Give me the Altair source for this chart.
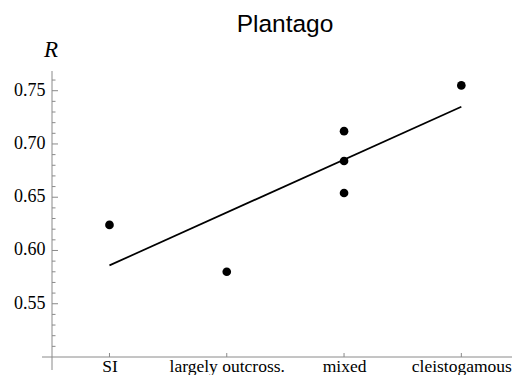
import altair as alt
import pandas as pd

# ---- data ----
categories = ["SI", "largely outcross.", "mixed", "cleistogamous"]
point_cat = [1, 2, 3, 3, 3, 4]
point_R = [0.624, 0.580, 0.712, 0.684, 0.654, 0.755]
fit_cat = [1, 4]
fit_R = [0.586, 0.735]
y_major = [0.55, 0.60, 0.65, 0.70, 0.75]
y_minor = [0.51, 0.52, 0.53, 0.54, 0.56, 0.57, 0.58, 0.59, 0.61, 0.62, 0.63, 0.64,
           0.66, 0.67, 0.68, 0.69, 0.71, 0.72, 0.73, 0.74, 0.76]
x_ticks = [1, 2, 3, 4]
title_text = "Plantago"
y_title = "R"

W, H = 460, 286
AX = "#8a8a8a"
xscale = alt.Scale(domain=[0.51, 4.432], nice=False, zero=False)
yscale = alt.Scale(domain=[0.5, 0.7685], nice=False, zero=False)

pts = pd.DataFrame({"cat": point_cat, "R": point_R})
fit = pd.DataFrame({"cat": fit_cat, "R": fit_R})
one = pd.DataFrame({"a": [0]})

label_expr = "['', " + ", ".join("'" + c + "'" for c in categories) + "][datum.value]"

xaxis_def = alt.Axis(values=x_ticks, labelExpr=label_expr, domain=False, ticks=False,
                     tickSize=0, grid=False, labelFont="Liberation Serif",
                     labelFontSize=17.5, labelColor="black", labelPadding=14.3,
                     labelBaseline="alphabetic", labelAngle=0, title=None)
yaxis_def = alt.Axis(values=y_major, format=".2f", domain=False, ticks=False,
                     tickSize=0, grid=False, labelFont="Liberation Serif",
                     labelFontSize=18, labelColor="black", labelPadding=7,
                     labelBaseline="alphabetic", labelOffset=4.5,
                     title=None)


def X(f):
    return alt.X(f, scale=xscale, axis=xaxis_def)


def Y(f):
    return alt.Y(f, scale=yscale, axis=yaxis_def)


points = alt.Chart(pts).mark_circle(size=75, color="black", opacity=1).encode(
    x=X("cat:Q"), y=Y("R:Q"))

line = alt.Chart(fit).mark_line(color="black", strokeWidth=1.7).encode(
    x=X("cat:Q"), y=Y("R:Q"))

ymaj = alt.Chart(pd.DataFrame({"R": y_major})).mark_rule(color=AX, strokeWidth=1).encode(
    y=Y("R:Q"), x=alt.value(0), x2=alt.value(6))
ymin = alt.Chart(pd.DataFrame({"R": y_minor})).mark_rule(color=AX, strokeWidth=1).encode(
    y=Y("R:Q"), x=alt.value(0), x2=alt.value(3.5))
xt = alt.Chart(pd.DataFrame({"cat": x_ticks})).mark_rule(color=AX, strokeWidth=1).encode(
    x=X("cat:Q"), y=alt.value(H), y2=alt.value(H - 4))

yaxis = alt.Chart(one).mark_rule(color=AX, strokeWidth=1).encode(
    x=alt.value(0), y=alt.value(0), y2=alt.value(H + 13))
xaxis = alt.Chart(one).mark_rule(color=AX, strokeWidth=1).encode(
    x=alt.value(-10), x2=alt.value(W), y=alt.value(H))

ttl = alt.Chart(one).mark_text(text=title_text, font="Liberation Sans", fontSize=24.5,
                               align="center", baseline="alphabetic", color="black").encode(
    x=alt.value(233), y=alt.value(-39))
rt = alt.Chart(one).mark_text(text=y_title, font="Liberation Serif", fontStyle="italic",
                              fontSize=23, align="center", baseline="alphabetic",
                              color="black").encode(
    x=alt.value(-1), y=alt.value(-14))

chart = alt.layer(yaxis, xaxis, ymin, ymaj, xt, line, points, ttl, rt).properties(
    width=W, height=H,
    autosize=alt.AutoSizeParams(type="none"),
    padding={"left": 44, "top": 63, "right": 0, "bottom": 18},
).configure_view(stroke=None).resolve_scale(x="shared", y="shared")

chart.save("out.html", embed_options={"renderer": "svg", "actions": False})
